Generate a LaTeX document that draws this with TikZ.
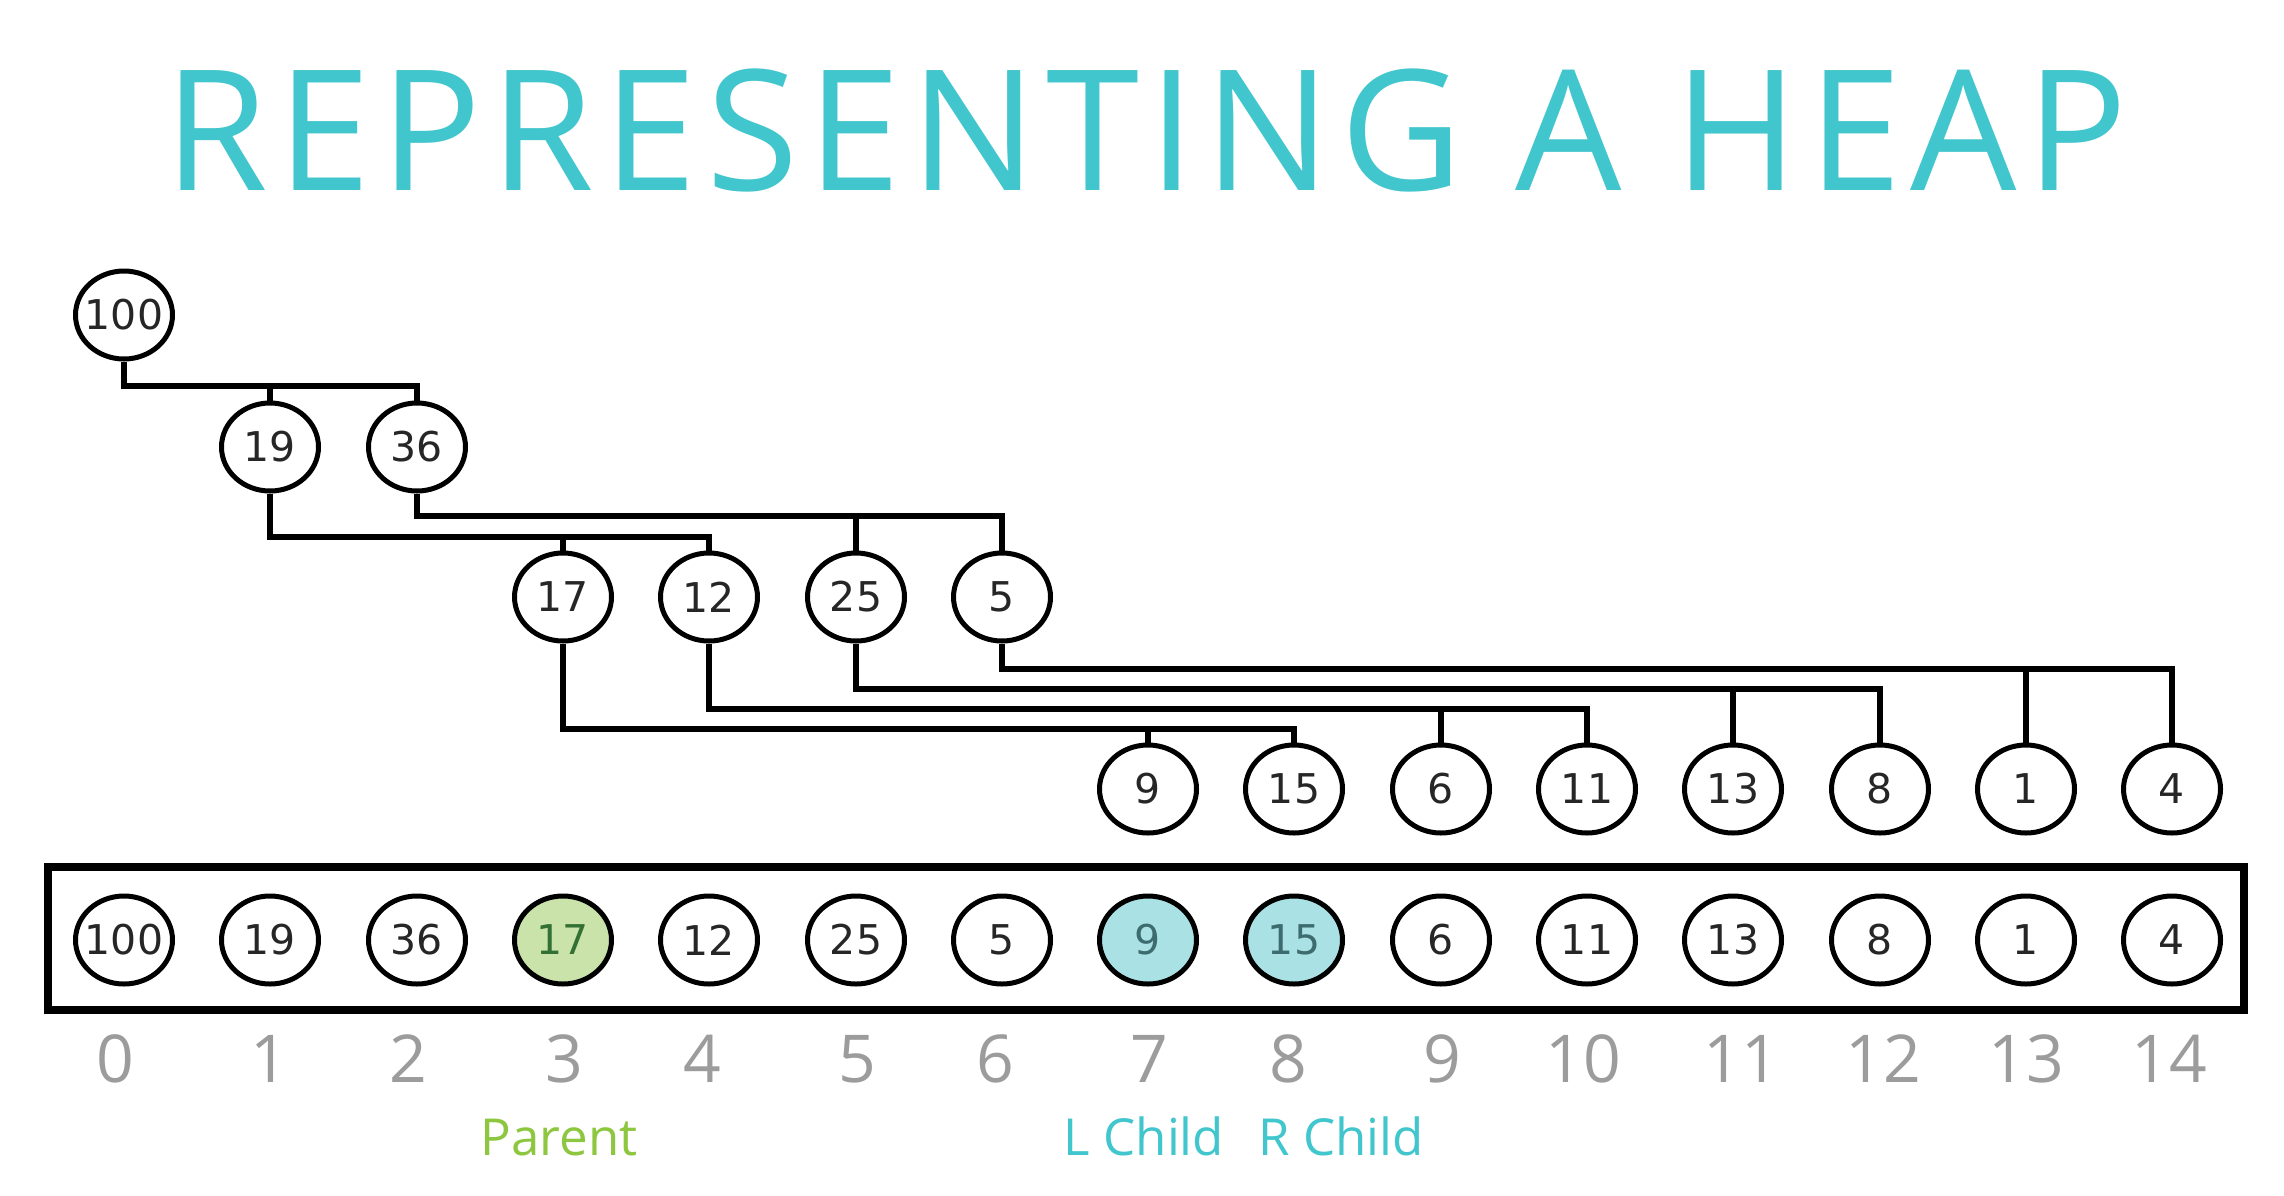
\documentclass[tikz,border=0pt]{standalone}
\usepackage{fontspec}
\setmainfont{Open Sans}
\newfontfamily\titlefont[LetterSpace=5.5]{Open Sans}
\newfontfamily\nodefont{DejaVu Sans}
\usetikzlibrary{shapes.geometric}
\definecolor{tealA}{HTML}{40C6CC}
\definecolor{greenA}{HTML}{8DC63F}
\definecolor{idxgrey}{HTML}{9C9C9C}
\definecolor{lgreen}{HTML}{C9E3AA}
\definecolor{lblue}{HTML}{A9E1E5}
\newcommand\zb[1]{\makebox[0pt]{#1}}
\begin{document}
\begin{tikzpicture}[x=1pt,y=-1pt,
  hnode/.style={ellipse, draw=black, line width=5pt, fill=white, minimum width=97pt, minimum height=88pt, inner sep=0pt, font=\nodefont\fontsize{41}{41}\selectfont, text=black!85},
  link/.style={line width=6pt, line join=miter},
  idx/.style={font=\fontsize{66}{66}\selectfont, text=idxgrey, anchor=base},
  lbl/.style={font=\fontsize{51}{51}\selectfont, anchor=base},
]
\path[use as bounding box, fill=white] (0,0) rectangle (2284,1195);
\node[anchor=base, text=tealA, font=\titlefont\fontsize{168}{168}\selectfont] (title) at (1146,190) {REPRESENTING A HEAP};

% tree nodes
\node[hnode] (t0) at (124,315) {\zb{100}};
\node[hnode] (t1) at (270,447) {\zb{19}};
\node[hnode] (t2) at (417,447) {\zb{36}};
\node[hnode] (t3) at (563,597) {\zb{17}};
\node[hnode] (t4) at (709,597) {\zb{12}};
\node[hnode] (t5) at (856,597) {\zb{25}};
\node[hnode] (t6) at (1002,597) {\zb{5}};
\node[hnode] (t7) at (1148,789) {\zb{9}};
\node[hnode] (t8) at (1294,789) {\zb{15}};
\node[hnode] (t9) at (1441,789) {\zb{6}};
\node[hnode] (t10) at (1587,789) {\zb{11}};
\node[hnode] (t11) at (1733,789) {\zb{13}};
\node[hnode] (t12) at (1880,789) {\zb{8}};
\node[hnode] (t13) at (2026,789) {\zb{1}};
\node[hnode] (t14) at (2172,789) {\zb{4}};

% connector levels
\coordinate (h0) at (0,386);
\coordinate (h1) at (0,516);
\coordinate (h2) at (0,537);
\coordinate (h3) at (0,669);
\coordinate (h4) at (0,689);
\coordinate (h5) at (0,709);
\coordinate (h6) at (0,729);

\draw[link] (t0.south) -- (t0.south |- h0) -| (t2.north);
\draw[link] (t1.north) -- (t1.north |- h0);
\draw[link] (t2.south) -- (t2.south |- h1) -| (t6.north);
\draw[link] (t5.north) -- (t5.north |- h1);
\draw[link] (t1.south) -- (t1.south |- h2) -| (t4.north);
\draw[link] (t3.north) -- (t3.north |- h2);
\draw[link] (t6.south) -- (t6.south |- h3) -| (t14.north);
\draw[link] (t13.north) -- (t13.north |- h3);
\draw[link] (t5.south) -- (t5.south |- h4) -| (t12.north);
\draw[link] (t11.north) -- (t11.north |- h4);
\draw[link] (t4.south) -- (t4.south |- h5) -| (t10.north);
\draw[link] (t9.north) -- (t9.north |- h5);
\draw[link] (t3.south) -- (t3.south |- h6) -| (t8.north);
\draw[link] (t7.north) -- (t7.north |- h6);

% array
\node[draw=black, line width=8pt, minimum width=2196pt, minimum height=143pt, inner sep=0pt] (arr) at (1146,938.5) {};
\node[hnode] (a0) at (124,940) {\zb{100}};
\node[hnode] (a1) at (270,940) {\zb{19}};
\node[hnode] (a2) at (417,940) {\zb{36}};
\node[hnode, fill=lgreen, text=black!60!green!60!gray] (a3) at (563,940) {\zb{17}};
\node[hnode] (a4) at (709,940) {\zb{12}};
\node[hnode] (a5) at (856,940) {\zb{25}};
\node[hnode] (a6) at (1002,940) {\zb{5}};
\node[hnode, fill=lblue, text=black!50!tealA!70!gray] (a7) at (1148,940) {\zb{9}};
\node[hnode, fill=lblue, text=black!50!tealA!70!gray] (a8) at (1294,940) {\zb{15}};
\node[hnode] (a9) at (1441,940) {\zb{6}};
\node[hnode] (a10) at (1587,940) {\zb{11}};
\node[hnode] (a11) at (1733,940) {\zb{13}};
\node[hnode] (a12) at (1880,940) {\zb{8}};
\node[hnode] (a13) at (2026,940) {\zb{1}};
\node[hnode] (a14) at (2172,940) {\zb{4}};

% indices
\node[idx] (i0) at (115,1082) {0};
\node[idx] (i1) at (269,1082) {1};
\node[idx] (i2) at (408,1082) {2};
\node[idx] (i3) at (564,1082) {3};
\node[idx] (i4) at (702,1082) {4};
\node[idx] (i5) at (857,1082) {5};
\node[idx] (i6) at (995,1082) {6};
\node[idx] (i7) at (1149,1082) {7};
\node[idx] (i8) at (1288,1082) {8};
\node[idx] (i9) at (1442,1082) {9};
\node[idx] (i10) at (1583,1082) {10};
\node[idx] (i11) at (1741,1082) {11};
\node[idx] (i12) at (1883,1082) {12};
\node[idx] (i13) at (2026,1082) {13};
\node[idx] (i14) at (2169,1082) {14};

% labels
\node[lbl, text=greenA] (parent) at (559,1155) {Parent};
\node[lbl, text=tealA] (lchild) at (1144,1155) {L Child};
\node[lbl, text=tealA] (rchild) at (1341,1155) {R Child};
\end{tikzpicture}
\end{document}
